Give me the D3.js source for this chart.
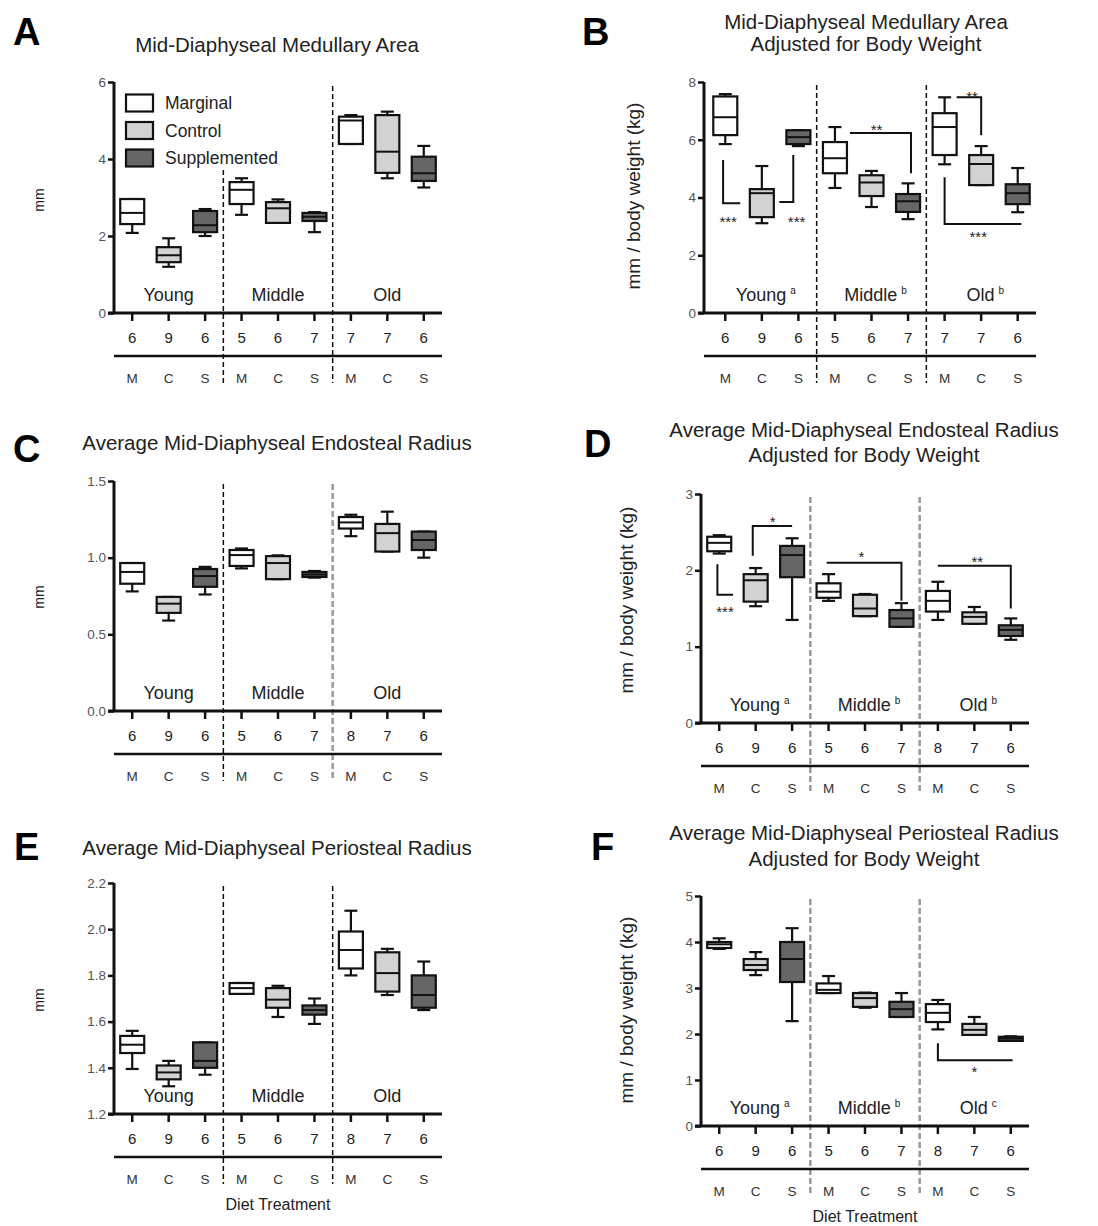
<!DOCTYPE html>
<html>
<head>
<meta charset="utf-8">
<script src="https://cdn.jsdelivr.net/npm/d3@7"></script>
<style>
  body { margin: 0; background: #fff; }
  svg { font-family: "Liberation Sans", Arial, sans-serif; }
</style>
</head>
<body>
<svg id="chart" width="1098" height="1226"></svg>
<script>
// shared labels
const letters = ["M", "C", "S", "M", "C", "S", "M", "C", "S"];
const groups = ["Young", "Middle", "Old"];
const legendNames = ["Marginal", "Control", "Supplemented"];
const fills = ["#ffffff", "#d2d2d2", "#666666"];

// sample sizes per box
const countsA = [6, 9, 6, 5, 6, 7, 7, 7, 6];
const countsB = [6, 9, 6, 5, 6, 7, 7, 7, 6];
const countsC = [6, 9, 6, 5, 6, 7, 8, 7, 6];
const countsD = [6, 9, 6, 5, 6, 7, 8, 7, 6];
const countsE = [6, 9, 6, 5, 6, 7, 8, 7, 6];
const countsF = [6, 9, 6, 5, 6, 7, 8, 7, 6];

// box stats: [min, q1, median, q3, max]
const statsA = [
  [2.08, 2.31, 2.6, 2.96, 2.96],
  [1.2, 1.32, 1.5, 1.71, 1.94],
  [2.0, 2.1, 2.28, 2.65, 2.7],
  [2.55, 2.83, 3.2, 3.4, 3.5],
  [2.34, 2.34, 2.72, 2.88, 2.95],
  [2.1, 2.39, 2.5, 2.6, 2.62],
  [4.39, 4.39, 5.0, 5.1, 5.14],
  [3.5, 3.64, 4.19, 5.14, 5.23],
  [3.26, 3.43, 3.63, 4.06, 4.34]
];
const statsB = [
  [5.85, 6.16, 6.78, 7.5, 7.58],
  [3.11, 3.32, 4.15, 4.29, 5.09],
  [5.78, 5.85, 6.09, 6.33, 6.33],
  [4.33, 4.84, 5.36, 5.92, 6.44],
  [3.67, 4.05, 4.52, 4.77, 4.92],
  [3.25, 3.5, 3.87, 4.12, 4.49],
  [5.15, 5.47, 6.44, 6.92, 7.47],
  [4.43, 4.43, 5.16, 5.47, 5.78],
  [3.49, 3.77, 4.15, 4.46, 5.02]
];
const statsC = [
  [0.78, 0.83, 0.907, 0.965, 0.965],
  [0.59, 0.64, 0.70, 0.744, 0.744],
  [0.76, 0.81, 0.88, 0.926, 0.94],
  [0.93, 0.946, 1.017, 1.05, 1.06],
  [0.86, 0.86, 0.965, 1.01, 1.015],
  [0.87, 0.874, 0.89, 0.907, 0.913],
  [1.14, 1.19, 1.23, 1.265, 1.28],
  [1.04, 1.04, 1.16, 1.22, 1.30],
  [1.0, 1.05, 1.115, 1.17, 1.17]
];
const statsD = [
  [2.22, 2.25, 2.36, 2.44, 2.46],
  [1.53, 1.59, 1.87, 1.95, 2.03],
  [1.35, 1.91, 2.2, 2.32, 2.42],
  [1.60, 1.64, 1.72, 1.83, 1.95],
  [1.40, 1.40, 1.5, 1.68, 1.69],
  [1.26, 1.26, 1.37, 1.48, 1.57],
  [1.35, 1.46, 1.6, 1.73, 1.85],
  [1.30, 1.30, 1.39, 1.45, 1.52],
  [1.09, 1.14, 1.22, 1.28, 1.37]
];
const statsE = [
  [1.395, 1.464, 1.50, 1.538, 1.56],
  [1.32, 1.35, 1.38, 1.41, 1.43],
  [1.37, 1.40, 1.43, 1.51, 1.51],
  [1.72, 1.72, 1.745, 1.767, 1.767],
  [1.62, 1.66, 1.695, 1.745, 1.755],
  [1.59, 1.63, 1.65, 1.67, 1.70],
  [1.80, 1.83, 1.91, 1.99, 2.08],
  [1.715, 1.73, 1.81, 1.90, 1.915],
  [1.65, 1.66, 1.715, 1.80, 1.86]
];
const statsF = [
  [3.85, 3.87, 3.95, 4.0, 4.08],
  [3.28, 3.39, 3.5, 3.63, 3.78],
  [2.28, 3.13, 3.63, 4.0, 4.3],
  [2.89, 2.89, 2.96, 3.1, 3.26],
  [2.57, 2.59, 2.78, 2.89, 2.9],
  [2.37, 2.37, 2.54, 2.7, 2.89],
  [2.1, 2.26, 2.46, 2.65, 2.74],
  [1.98, 1.98, 2.09, 2.22, 2.37],
  [1.85, 1.85, 1.9, 1.94, 1.95]
];

// significance brackets: path in [category index, value], stars at [index, value]
const bracketsB = [
  { path: [[-0.06, 5.3], [-0.06, 3.8], [0.41, 3.8]], label: "***", at: [0.08, 3.29] },
  { path: [[1.86, 5.47], [1.86, 3.84], [1.48, 3.84]], label: "***", at: [1.95, 3.29] },
  { path: [[3.41, 6.23], [5.08, 6.23], [5.08, 4.84]], label: "**", at: [4.14, 6.47] },
  { path: [[6.33, 7.47], [7.0, 7.47], [7.0, 6.16]], label: "**", at: [6.75, 7.62] },
  { path: [[6.0, 4.7], [6.0, 3.08], [8.1, 3.08]], label: "***", at: [6.92, 2.77] }
];
const bracketsD = [
  { path: [[-0.05, 2.08], [-0.05, 1.68], [0.38, 1.68]], label: "***", at: [0.16, 1.51] },
  { path: [[0.92, 2.19], [0.92, 2.58], [2.0, 2.58]], label: "*", at: [1.47, 2.69] },
  { path: [[2.95, 2.1], [5.0, 2.1], [5.0, 1.6]], label: "*", at: [3.9, 2.23] },
  { path: [[6.0, 2.06], [8.0, 2.06], [8.0, 1.5]], label: "**", at: [7.08, 2.16] }
];
const bracketsF = [
  { path: [[6.0, 1.8], [6.0, 1.43], [8.05, 1.43]], label: "*", at: [7.0, 1.26] }
];

const groupSupsB = ["a", "b", "b"];
const groupSupsD = ["a", "b", "b"];
const groupSupsF = ["a", "b", "c"];

const panels = [
  { id: "A", lx: 13, ly: 45, title: ["Mid-Diaphyseal Medullary Area"], tx: 277, ty: [52],
    x0: 114, x1: 442, yTop: 82, y0: 313, domain: [0, 6], ticks: [0, 2, 4, 6], fmt: d3.format("d"),
    ylabel: "mm", ylx: 44, yly: 200, ylsize: 14, counts: countsA, stats: statsA, divTop: [170, 86],
    brackets: [], sups: null, divColors: ["#111", "#111"], legend: true, xlabel: false },
  { id: "B", lx: 582, ly: 45, title: ["Mid-Diaphyseal Medullary Area", "Adjusted for Body Weight"], tx: 866, ty: [29, 51],
    x0: 707, x1: 1036, axisX: 704, yTop: 82, y0: 313, domain: [0, 8], ticks: [0, 2, 4, 6, 8], fmt: d3.format("d"),
    ylabel: "mm / body weight (kg)", ylx: 640, yly: 196, ylsize: 19, counts: countsB, stats: statsB,
    brackets: bracketsB, sups: groupSupsB, divColors: ["#111", "#111"], legend: false, xlabel: false },
  { id: "C", lx: 13, ly: 462, title: ["Average Mid-Diaphyseal Endosteal Radius"], tx: 277, ty: [450],
    x0: 114, x1: 442, yTop: 481, y0: 711, domain: [0, 1.5], ticks: [0, 0.5, 1.0, 1.5], fmt: d3.format(".1f"),
    ylabel: "mm", ylx: 44, yly: 597, ylsize: 14, counts: countsC, stats: statsC,
    brackets: [], sups: null, divColors: ["#111", "#999"], legend: false, xlabel: false },
  { id: "D", lx: 584, ly: 457, title: ["Average Mid-Diaphyseal Endosteal Radius", "Adjusted for Body Weight"], tx: 864, ty: [437, 462],
    x0: 701, x1: 1029, yTop: 494, y0: 723, domain: [0, 3], ticks: [0, 1, 2, 3], fmt: d3.format("d"),
    ylabel: "mm / body weight (kg)", ylx: 633, yly: 600, ylsize: 19, counts: countsD, stats: statsD,
    brackets: bracketsD, sups: groupSupsD, divColors: ["#999", "#999"], legend: false, xlabel: false },
  { id: "E", lx: 14, ly: 860, title: ["Average Mid-Diaphyseal Periosteal Radius"], tx: 277, ty: [855],
    x0: 114, x1: 442, yTop: 883, y0: 1114, domain: [1.2, 2.2], ticks: [1.2, 1.4, 1.6, 1.8, 2.0, 2.2], fmt: d3.format(".1f"),
    ylabel: "mm", ylx: 44, yly: 1000, ylsize: 14, counts: countsE, stats: statsE,
    brackets: [], sups: null, divColors: ["#111", "#111"], legend: false, xlabel: true },
  { id: "F", lx: 591, ly: 860, title: ["Average Mid-Diaphyseal Periosteal Radius", "Adjusted for Body Weight"], tx: 864, ty: [840, 866],
    x0: 701, x1: 1029, yTop: 896, y0: 1126, domain: [0, 5], ticks: [0, 1, 2, 3, 4, 5], fmt: d3.format("d"),
    ylabel: "mm / body weight (kg)", ylx: 633, yly: 1010, ylsize: 19, counts: countsF, stats: statsF,
    brackets: bracketsF, sups: groupSupsF, divColors: ["#999", "#999"], legend: false, xlabel: true }
];

const svg = d3.select("#chart");

function drawPanel(p) {
  const g = svg.append("g");
  const axisX = p.axisX || p.x0;
  const x = d3.scaleBand().domain(d3.range(9)).range([p.x0, p.x1]);
  const step = x.step();
  const cx = i => p.x0 + (i + 0.5) * step;
  const y = d3.scaleLinear().domain(p.domain).range([p.y0, p.yTop]);

  // panel letter + title
  g.append("text").attr("x", p.lx).attr("y", p.ly)
    .attr("font-size", 38).attr("font-weight", "bold").attr("fill", "#000").text(p.id);
  p.title.forEach((t, k) => {
    g.append("text").attr("x", p.tx).attr("y", p.ty[k]).attr("text-anchor", "middle")
      .attr("font-size", 20.5).attr("fill", "#222").text(t);
  });

  // y label
  g.append("text")
    .attr("transform", `translate(${p.ylx},${p.yly}) rotate(-90)`)
    .attr("text-anchor", "middle").attr("font-size", p.ylsize).attr("fill", "#222")
    .text(p.ylabel);

  // dividers between age groups
  [3, 6].forEach((b, k) => {
    const gray = p.divColors[k] !== "#111";
    const top = p.divTop ? p.divTop[k] : p.yTop + 3;
    g.append("line")
      .attr("x1", p.x0 + b * step).attr("x2", p.x0 + b * step)
      .attr("y1", top).attr("y2", p.y0 + 70)
      .attr("stroke", p.divColors[k])
      .attr("stroke-width", gray ? 2.5 : 1.5)
      .attr("stroke-dasharray", gray ? "6,3" : "5,3");
  });

  // y axis
  const yAxis = d3.axisLeft(y).tickValues(p.ticks).tickFormat(p.fmt).tickSize(6).tickPadding(2);
  const ya = g.append("g").attr("transform", `translate(${axisX},0)`).call(yAxis);
  ya.select(".domain").attr("stroke", "#111").attr("stroke-width", 3)
    .attr("d", `M0,${p.yTop}V${p.y0}`);
  ya.selectAll(".tick line").attr("stroke", "#111").attr("stroke-width", 2.5);
  ya.selectAll(".tick text").attr("font-size", 13.5).attr("fill", "#555")
    .attr("font-family", "Liberation Sans, Arial, sans-serif");

  // x axis with category ticks
  g.append("line").attr("x1", axisX - 6).attr("x2", p.x1)
    .attr("y1", p.y0).attr("y2", p.y0).attr("stroke", "#111").attr("stroke-width", 3);
  g.selectAll(".xt").data(d3.range(9)).join("line")
    .attr("x1", cx).attr("x2", cx).attr("y1", p.y0).attr("y2", p.y0 + 8)
    .attr("stroke", "#111").attr("stroke-width", 2.5);

  // counts, rule, letters
  g.selectAll(".cnt").data(p.counts).join("text")
    .attr("x", (d, i) => cx(i)).attr("y", p.y0 + 30).attr("text-anchor", "middle")
    .attr("font-size", 15).attr("fill", "#222").text(d => d);
  g.append("line").attr("x1", axisX).attr("x2", p.x1)
    .attr("y1", p.y0 + 43).attr("y2", p.y0 + 43).attr("stroke", "#111").attr("stroke-width", 2.5);
  g.selectAll(".let").data(letters).join("text")
    .attr("x", (d, i) => cx(i)).attr("y", p.y0 + 70).attr("text-anchor", "middle")
    .attr("font-size", 13.5).attr("fill", "#333").text(d => d);
  if (p.xlabel) {
    g.append("text").attr("x", cx(4)).attr("y", p.y0 + 96).attr("text-anchor", "middle")
      .attr("font-size", 16).attr("fill", "#222").text("Diet Treatment");
  }

  // group labels
  groups.forEach((name, k) => {
    const t = g.append("text").attr("x", cx(k * 3 + 1) + (p.sups ? 4 : 0)).attr("y", p.y0 - 12)
      .attr("text-anchor", "middle").attr("font-size", 18).attr("fill", "#222");
    t.append("tspan").text(name);
    if (p.sups) {
      t.append("tspan").attr("font-size", 10).attr("dx", 4).attr("dy", -7).text(p.sups[k]);
    }
  });

  // boxes
  const bw = 24, cap = 13;
  p.stats.forEach((s, i) => {
    const c = cx(i);
    const fill = fills[i % 3];
    const bx = g.append("g");
    bx.append("line").attr("x1", c).attr("x2", c).attr("y1", y(s[0])).attr("y2", y(s[4]))
      .attr("stroke", "#111").attr("stroke-width", 2.2);
    [s[0], s[4]].forEach(v => {
      bx.append("line").attr("x1", c - cap / 2).attr("x2", c + cap / 2)
        .attr("y1", y(v)).attr("y2", y(v)).attr("stroke", "#111").attr("stroke-width", 2.2);
    });
    bx.append("rect").attr("x", c - bw / 2).attr("y", y(s[3])).attr("width", bw)
      .attr("height", Math.max(1, y(s[1]) - y(s[3])))
      .attr("fill", fill).attr("stroke", "#111").attr("stroke-width", 2.2);
    bx.append("line").attr("x1", c - bw / 2).attr("x2", c + bw / 2)
      .attr("y1", y(s[2])).attr("y2", y(s[2])).attr("stroke", "#111").attr("stroke-width", 2);
  });

  // significance brackets
  const line = d3.line().x(d => cx(d[0])).y(d => y(d[1]));
  p.brackets.forEach(b => {
    g.append("path").attr("d", line(b.path)).attr("fill", "none")
      .attr("stroke", "#111").attr("stroke-width", 2);
    g.append("text").attr("x", cx(b.at[0])).attr("y", y(b.at[1]) + 9)
      .attr("text-anchor", "middle").attr("font-size", 15).attr("fill", "#222").text(b.label);
  });

  // legend
  if (p.legend) {
    legendNames.forEach((name, k) => {
      const ly = 103 + k * 27.5;
      g.append("rect").attr("x", 126).attr("y", ly - 8.5).attr("width", 27).attr("height", 17)
        .attr("fill", fills[k]).attr("stroke", "#111").attr("stroke-width", 2.2);
      g.append("text").attr("x", 165).attr("y", ly + 6).attr("font-size", 17.5)
        .attr("fill", "#222").text(name);
    });
  }
}

panels.forEach(drawPanel);
</script>
</body>
</html>
